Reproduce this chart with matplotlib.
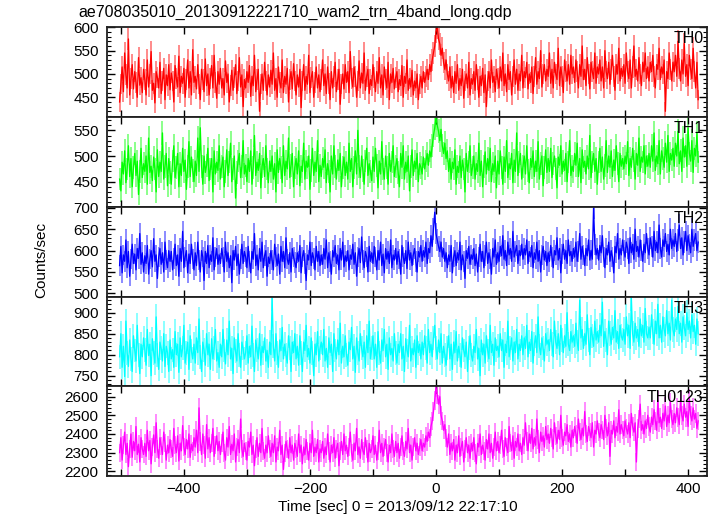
import numpy as np
import matplotlib
matplotlib.use('Agg')
import matplotlib.pyplot as plt
from matplotlib.ticker import MultipleLocator, FuncFormatter

plt.rcParams['font.family'] = ['Liberation Sans', 'DejaVu Sans']

# ---- data (2 s sampling of the light curves) ----
t_start = -502
t_step = 2

th0 = [440, 478, 515, 462, 545, 498, 470, 575, 455, 490, 520, 468, 505, 482, 450, 535, 476, 492, 460, 510,
       488, 455, 530, 472, 500, 548, 465, 480, 438, 505, 492, 470, 525, 458, 485, 512, 445, 498, 475, 520,
       466, 502, 485, 440, 518, 490, 472, 538, 460, 495, 480, 512, 450, 488, 530, 470, 505, 455, 552, 482,
       495, 468, 520, 478, 445, 510, 488, 462, 532, 475, 500, 455, 490, 518, 470, 540, 482, 448, 505, 478,
       512, 470, 490, 455, 528, 482, 500, 440, 475, 508, 465, 492, 520, 458, 485, 535, 472, 498, 430, 488,
       470, 505, 482, 518, 452, 495, 475, 540, 462, 488, 510, 420, 478, 500, 465, 525, 485, 455, 498, 472,
       508, 478, 545, 465, 490, 450, 515, 482, 470, 530, 460, 495, 478, 512, 440, 488, 505, 468, 522, 485,
       455, 498, 472, 510, 428, 485, 520, 465, 495, 478, 540, 460, 492, 505, 450, 482, 515, 470, 498, 462,
       488, 530, 475, 500, 458, 515, 480, 445, 505, 470, 495, 525, 462, 488, 510, 435, 478, 500, 468, 520,
       482, 505, 460, 548, 490, 472, 515, 495, 450, 485, 528, 470, 502, 480, 545, 465, 495, 510, 458, 488,
       475, 520, 492, 462, 505, 480, 535, 470, 498, 455, 515, 488, 470, 525, 445, 500, 482, 512, 468, 492,
       505, 462, 488, 475, 518, 450, 495, 480, 530, 465, 490, 472, 508, 455, 485, 470, 500, 445, 478, 495,
       470, 505, 482, 495, 510, 488, 520, 505, 530, 545, 560, 590, 600, 575, 565, 540, 555, 525, 510, 530,
       500, 485, 515, 470, 495, 460, 505, 480, 520, 465, 490, 475, 510, 448, 485, 500, 470, 525, 455, 490,
       478, 505, 465, 520, 488, 450, 495, 475, 512, 460, 498, 430, 485, 505, 470, 530, 482, 495, 462, 510,
       490, 470, 515, 485, 545, 475, 500, 462, 520, 488, 505, 455, 495, 530, 478, 510, 465, 500, 485, 540,
       470, 505, 492, 525, 468, 500, 482, 515, 458, 495, 535, 478, 505, 490, 550, 472, 500, 520, 485, 510,
       495, 545, 480, 510, 470, 525, 500, 488, 555, 475, 515, 495, 460, 530, 505, 485, 520, 478, 540, 500,
       515, 482, 530, 505, 470, 520, 495, 560, 488, 510, 475, 535, 500, 468, 525, 505, 490, 545, 480, 515,
       500, 530, 485, 515, 470, 550, 505, 490, 525, 478, 510, 540, 495, 465, 520, 500, 555, 485, 512, 495,
       520, 480, 545, 505, 490, 530, 470, 515, 560, 495, 510, 485, 535, 500, 475, 525, 505, 545, 490, 515,
       485, 525, 505, 540, 495, 470, 520, 510, 555, 488, 515, 500, 530, 420, 505, 490, 545, 510, 485, 525,
       505, 540, 495, 570, 512, 485, 530, 500, 565, 495, 520, 475, 540, 510, 490, 555, 505, 470, 525, 445]

th1 = [455, 432, 488, 465, 510, 448, 475, 520, 460, 495, 440, 478, 505, 462, 490, 425, 470, 515, 458, 485,
       470, 500, 445, 535, 468, 480, 452, 498, 475, 430, 512, 460, 488, 470, 545, 455, 480, 505, 442, 495,
       468, 445, 490, 520, 458, 478, 505, 440, 485, 462, 515, 470, 492, 435, 480, 528, 460, 498, 472, 450,
       490, 462, 535, 470, 555, 480, 445, 500, 468, 482, 515, 452, 475, 495, 430, 510, 465, 488, 472, 520,
       455, 480, 498, 440, 470, 512, 462, 488, 525, 450, 475, 500, 418, 468, 490, 505, 458, 480, 530, 465,
       482, 450, 495, 470, 510, 445, 478, 540, 462, 488, 472, 505, 438, 480, 495, 460, 520, 475, 448, 490,
       470, 500, 455, 485, 430, 512, 468, 495, 478, 448, 520, 462, 490, 475, 535, 458, 482, 505, 440, 478,
       495, 465, 510, 442, 480, 470, 525, 455, 490, 478, 500, 435, 472, 515, 462, 488, 470, 530, 450, 482,
       460, 495, 478, 512, 448, 485, 470, 430, 500, 465, 520, 480, 455, 492, 472, 505, 440, 478, 498, 462,
       488, 455, 525, 470, 495, 440, 478, 510, 465, 550, 480, 458, 500, 472, 445, 490, 515, 462, 485, 470,
       452, 498, 470, 515, 482, 438, 490, 465, 528, 475, 455, 500, 478, 445, 505, 470, 488, 520, 460, 480,
       495, 468, 440, 505, 478, 520, 455, 488, 470, 500, 432, 480, 512, 462, 490, 475, 505, 450, 485, 478,
       465, 498, 475, 490, 505, 482, 510, 498, 520, 540, 555, 575, 560, 548, 530, 552, 520, 505, 525, 495,
       510, 470, 495, 455, 488, 475, 512, 445, 480, 468, 500, 458, 492, 475, 430, 505, 470, 488, 520, 462,
       478, 500, 455, 485, 470, 525, 462, 490, 440, 480, 508, 465, 495, 472, 515, 450, 485, 470, 500, 438,
       490, 465, 510, 478, 445, 498, 470, 530, 458, 485, 475, 505, 448, 492, 470, 545, 462, 488, 505, 455,
       480, 500, 465, 520, 472, 448, 495, 478, 510, 460, 490, 470, 528, 455, 485, 500, 442, 478, 512, 468,
       495, 470, 515, 458, 485, 500, 475, 438, 498, 482, 520, 465, 490, 472, 505, 450, 488, 530, 462, 480,
       470, 505, 482, 525, 460, 495, 448, 512, 478, 490, 465, 500, 475, 540, 458, 488, 505, 470, 495, 445,
       488, 515, 470, 498, 455, 482, 530, 468, 500, 478, 510, 460, 492, 472, 520, 485, 450, 505, 480, 495,
       475, 500, 485, 528, 462, 495, 478, 515, 490, 455, 505, 482, 535, 470, 498, 488, 520, 465, 500, 480,
       505, 478, 520, 490, 545, 472, 500, 485, 530, 465, 510, 495, 478, 525, 488, 540, 470, 505, 492, 515,
       480, 525, 500, 548, 485, 510, 470, 535, 498, 520, 480, 555, 505, 490, 530, 468, 515, 500, 545, 488]

th2 = [565, 610, 548, 590, 575, 625, 560, 598, 540, 580, 615, 570, 592, 555, 605, 582, 640, 568, 595, 550,
       588, 570, 612, 545, 580, 600, 562, 628, 575, 590, 535, 585, 605, 568, 595, 550, 620, 578, 560, 600,
       575, 598, 555, 582, 615, 565, 590, 540, 605, 575, 645, 560, 585, 600, 548, 592, 570, 615, 580, 555,
       595, 565, 620, 578, 550, 600, 585, 530, 598, 570, 612, 560, 590, 575, 630, 555, 585, 605, 568, 590,
       570, 605, 585, 550, 620, 575, 595, 560, 588, 525, 600, 578, 610, 565, 592, 545, 580, 615, 570, 598,
       585, 560, 610, 575, 548, 598, 580, 640, 565, 590, 555, 605, 575, 620, 560, 588, 600, 540, 585, 570,
       600, 578, 555, 615, 585, 565, 592, 545, 610, 575, 598, 560, 630, 580, 568, 595, 550, 605, 585, 572,
       560, 595, 575, 612, 548, 585, 600, 570, 530, 590, 578, 620, 565, 595, 582, 555, 610, 575, 598, 565,
       590, 568, 605, 580, 625, 560, 595, 575, 545, 600, 585, 612, 570, 590, 555, 605, 578, 620, 562, 588,
       575, 600, 555, 590, 580, 615, 568, 595, 540, 585, 605, 572, 632, 578, 560, 598, 585, 550, 610, 575,
       595, 570, 610, 585, 555, 600, 578, 620, 565, 592, 548, 605, 580, 598, 570, 625, 560, 590, 578, 605,
       568, 598, 580, 545, 612, 585, 570, 600, 558, 620, 578, 595, 565, 590, 605, 575, 550, 598, 585, 612,
       575, 600, 585, 620, 570, 605, 595, 635, 610, 650, 690, 640, 625, 610, 598, 620, 585, 605, 575, 595,
       560, 590, 575, 612, 548, 585, 600, 565, 595, 578, 620, 555, 590, 575, 535, 600, 582, 610, 568, 590,
       580, 605, 565, 592, 550, 585, 615, 575, 598, 560, 588, 620, 570, 595, 580, 545, 605, 585, 625, 568,
       595, 575, 610, 588, 635, 580, 600, 565, 620, 590, 605, 575, 645, 585, 598, 612, 570, 600, 588, 615,
       580, 605, 590, 625, 570, 598, 585, 612, 560, 595, 580, 620, 575, 600, 550, 590, 610, 578, 598, 565,
       595, 575, 612, 585, 560, 600, 590, 630, 578, 605, 548, 592, 615, 580, 600, 570, 625, 588, 598, 575,
       605, 585, 620, 575, 598, 640, 580, 610, 590, 565, 605, 588, 625, 578, 600, 580, 700, 615, 590, 605,
       578, 612, 595, 635, 585, 560, 605, 590, 620, 575, 600, 585, 548, 610, 595, 640, 580, 605, 590, 625,
       600, 585, 620, 605, 570, 630, 595, 615, 580, 650, 598, 610, 585, 625, 600, 575, 615, 595, 640, 605,
       590, 630, 610, 585, 645, 600, 620, 595, 660, 605, 585, 625, 610, 640, 598, 615, 590, 650, 605, 625,
       610, 640, 598, 625, 660, 605, 630, 590, 620, 645, 600, 635, 615, 595, 650, 610, 625, 640, 600, 620]

th3 = [795, 850, 770, 820, 748, 880, 805, 772, 835, 790, 760, 845, 810, 785, 870, 800, 755, 825, 795, 840,
       812, 775, 860, 798, 825, 750, 838, 805, 780, 890, 800, 765, 830, 815, 785, 850, 772, 820, 805, 760,
       835, 790, 812, 770, 855, 800, 825, 758, 840, 795, 815, 870, 780, 805, 830, 765, 845, 808, 790, 825,
       780, 840, 805, 885, 795, 760, 830, 812, 775, 850, 800, 825, 765, 838, 790, 815, 860, 785, 805, 770,
       825, 795, 860, 810, 778, 835, 800, 880, 790, 815, 755, 840, 808, 785, 850, 800, 770, 830, 815, 790,
       805, 845, 780, 820, 795, 868, 800, 760, 835, 812, 790, 850, 775, 820, 805, 840, 785, 810, 770, 830,
       800, 935, 820, 785, 850, 805, 770, 835, 810, 865, 790, 825, 800, 780, 845, 815, 760, 830, 805, 850,
       790, 820, 775, 845, 805, 760, 830, 810, 870, 795, 815, 780, 840, 805, 750, 825, 800, 855, 785, 815,
       830, 800, 860, 785, 815, 770, 840, 805, 825, 760, 850, 810, 790, 835, 800, 875, 780, 820, 795, 845,
       800, 775, 830, 812, 865, 790, 820, 758, 840, 805, 785, 850, 815, 795, 830, 770, 845, 805, 880, 790,
       815, 845, 790, 825, 770, 855, 805, 780, 835, 810, 860, 795, 825, 765, 840, 800, 815, 785, 850, 805,
       780, 825, 805, 850, 790, 820, 760, 838, 810, 795, 870, 785, 815, 800, 835, 770, 845, 805, 825, 790,
       830, 800, 845, 815, 780, 860, 805, 825, 795, 840, 870, 815, 790, 835, 805, 850, 780, 820, 800, 775,
       815, 845, 790, 825, 765, 830, 805, 855, 785, 820, 800, 770, 840, 810, 795, 830, 760, 815, 845, 800,
       785, 820, 805, 860, 790, 815, 750, 835, 800, 825, 780, 845, 810, 790, 870, 805, 825, 775, 840, 810,
       820, 795, 850, 810, 835, 770, 825, 805, 880, 795, 815, 840, 785, 830, 805, 860, 790, 825, 810, 845,
       800, 840, 815, 870, 795, 830, 810, 855, 780, 825, 845, 805, 890, 820, 800, 840, 815, 785, 850, 825,
       835, 810, 860, 825, 795, 880, 830, 815, 850, 800, 870, 835, 805, 845, 820, 900, 825, 810, 855, 830,
       845, 820, 875, 830, 810, 930, 840, 860, 815, 850, 825, 895, 835, 800, 865, 845, 820, 880, 835, 855,
       830, 870, 845, 925, 820, 855, 835, 800, 880, 850, 825, 865, 840, 905, 830, 855, 815, 870, 845, 835,
       860, 825, 890, 845, 870, 815, 935, 850, 830, 875, 840, 860, 820, 885, 845, 870, 830, 910, 850, 840,
       865, 840, 895, 855, 825, 880, 850, 920, 840, 870, 830, 890, 860, 845, 905, 850, 875, 835, 930, 860,
       845, 885, 860, 915, 850, 875, 830, 890, 865, 845, 900, 860, 880, 840, 895, 855, 870, 825, 885, 850]

th0123 = [2300, 2380, 2260, 2340, 2410, 2290, 2350, 2225, 2320, 2400, 2275, 2360, 2310, 2440, 2290, 2345, 2250, 2380, 2320, 2290,
          2350, 2280, 2420, 2310, 2365, 2240, 2330, 2395, 2300, 2460, 2320, 2270, 2380, 2335, 2290, 2410, 2350, 2260, 2340, 2300,
          2370, 2320, 2280, 2430, 2340, 2300, 2390, 2255, 2350, 2310, 2445, 2330, 2290, 2370, 2320, 2400, 2275, 2345, 2310, 2380,
          2330, 2420, 2300, 2540, 2360, 2290, 2400, 2340, 2270, 2450, 2320, 2380, 2300, 2350, 2430, 2280, 2340, 2390, 2310, 2360,
          2290, 2350, 2410, 2300, 2260, 2380, 2330, 2440, 2290, 2345, 2310, 2400, 2250, 2330, 2370, 2300, 2480, 2320, 2280, 2350,
          2310, 2260, 2360, 2330, 2410, 2290, 2340, 2230, 2320, 2380, 2280, 2350, 2300, 2430, 2310, 2270, 2340, 2300, 2390, 2320,
          2280, 2350, 2300, 2390, 2250, 2330, 2310, 2420, 2290, 2340, 2210, 2300, 2360, 2320, 2270, 2380, 2300, 2340, 2260, 2350,
          2320, 2280, 2400, 2300, 2340, 2240, 2330, 2290, 2370, 2310, 2260, 2350, 2300, 2420, 2280, 2330, 2300, 2370, 2250, 2320,
          2300, 2360, 2270, 2330, 2290, 2400, 2310, 2250, 2340, 2300, 2380, 2270, 2320, 2350, 2230, 2310, 2360, 2290, 2400, 2310,
          2340, 2280, 2330, 2410, 2300, 2260, 2350, 2310, 2430, 2290, 2330, 2270, 2370, 2310, 2290, 2380, 2320, 2250, 2350, 2300,
          2320, 2390, 2290, 2340, 2260, 2310, 2420, 2300, 2350, 2280, 2330, 2370, 2300, 2250, 2340, 2300, 2400, 2320, 2280, 2360,
          2300, 2350, 2270, 2330, 2390, 2310, 2280, 2360, 2320, 2430, 2300, 2340, 2260, 2330, 2380, 2310, 2350, 2290, 2330, 2370,
          2310, 2350, 2330, 2390, 2360, 2410, 2380, 2440, 2470, 2520, 2580, 2650, 2610, 2560, 2600, 2500, 2470, 2420, 2450, 2380,
          2330, 2400, 2290, 2350, 2310, 2370, 2260, 2340, 2300, 2390, 2280, 2330, 2360, 2250, 2320, 2380, 2300, 2340, 2270, 2350,
          2310, 2380, 2300, 2240, 2350, 2330, 2400, 2290, 2340, 2310, 2260, 2370, 2320, 2400, 2300, 2350, 2270, 2330, 2410, 2310,
          2360, 2300, 2340, 2420, 2320, 2280, 2380, 2330, 2300, 2440, 2350, 2310, 2390, 2270, 2360, 2330, 2400, 2310, 2350, 2290,
          2380, 2340, 2460, 2360, 2310, 2400, 2350, 2430, 2320, 2380, 2340, 2480, 2370, 2300, 2410, 2360, 2390, 2330, 2440, 2370,
          2400, 2350, 2430, 2380, 2320, 2460, 2390, 2350, 2420, 2370, 2500, 2380, 2340, 2410, 2390, 2450, 2360, 2400, 2330, 2420,
          2380, 2440, 2400, 2350, 2480, 2410, 2370, 2430, 2390, 2520, 2400, 2360, 2440, 2410, 2380, 2460, 2330, 2420, 2400, 2470,
          2410, 2380, 2450, 2420, 2370, 2500, 2430, 2390, 2460, 2280, 2420, 2400, 2470, 2380, 2440, 2410, 2530, 2400, 2450, 2420,
          2390, 2470, 2430, 2400, 2460, 2380, 2510, 2440, 2410, 2460, 2250, 2430, 2480, 2560, 2420, 2450, 2400, 2470, 2430, 2500,
          2440, 2410, 2490, 2450, 2530, 2470, 2420, 2580, 2460, 2490, 2430, 2510, 2470, 2550, 2440, 2500, 2460, 2570, 2480, 2450,
          2510, 2460, 2540, 2490, 2450, 2580, 2500, 2470, 2560, 2490, 2520, 2440, 2590, 2500, 2470, 2540, 2480, 2510, 2430, 2470]

band_names = ['TH0', 'TH1', 'TH2', 'TH3', 'TH0123']
band_values = [th0, th1, th2, th3, th0123]
band_colors = ['#ff0000', '#00ff00', '#0000ff', '#00ffff', '#ff00ff']
band_ylims = [(407.7, 600), (401, 576), (492.5, 702.8), (724.8, 938.6), (2174.8, 2655.8)]
band_ysteps = [50, 50, 50, 50, 100]

title_text = 'ae708035010_20130912221710_wam2_trn_4band_long.qdp'
xlabel_text = 'Time [sec] 0 = 2013/09/12 22:17:10'
ylabel_text = 'Counts/sec'

# ---- figure ----
W, H = 717, 516
fig = plt.figure(figsize=(W / 100, H / 100), dpi=100)
x0, x1 = 107 / W, 707 / W
ytop, ybot = 1 - 27.3 / H, 1 - 476 / H
ph = (ytop - ybot) / 5

def lighten(c, f=0.5):
    r, g, b = matplotlib.colors.to_rgb(c)
    return (r + (1 - r) * f, g + (1 - g) * f, b + (1 - b) * f)

fs = 11
for i, (name, vals, col, yl, ys) in enumerate(zip(band_names, band_values, band_colors, band_ylims, band_ysteps)):
    ax = fig.add_axes([x0, ytop - (i + 1) * ph, x1 - x0, ph])
    y = np.asarray(vals, dtype=float)
    t = t_start + t_step * np.arange(len(y))
    err = np.sqrt(y)
    ax.vlines(t, y - err, y + err, colors=[lighten(col, 0.42)], linewidth=1.1, zorder=1)
    ax.plot(t, y, color=col, linewidth=0.95, zorder=2)
    ax.set_xlim(-522, 430)
    ax.set_ylim(*yl)
    ax.yaxis.set_major_locator(MultipleLocator(ys))
    ax.yaxis.set_minor_locator(MultipleLocator(ys / 5))
    ax.xaxis.set_major_locator(MultipleLocator(100))
    ax.xaxis.set_major_formatter(FuncFormatter(lambda v, p: ('%d' % v).replace('-', '\u2212') if abs(v) % 200 == 0 else ''))
    ax.tick_params(axis='both', which='both', direction='in', top=True, right=True,
                   labelsize=fs, colors='black')
    ax.tick_params(axis='y', which='major', length=6, width=1.0, pad=6)
    ax.tick_params(axis='y', which='minor', length=3, width=0.8)
    ax.tick_params(axis='x', which='major', length=5, width=1.0, pad=4.5)
    if i < 4:
        ax.tick_params(axis='x', labelbottom=False)
    for s in ax.spines.values():
        s.set_linewidth(1.3)
        s.set_color('#202020')
    ax.text(0.994, 0.955, name, transform=ax.transAxes, ha='right', va='top',
            fontsize=fs + 0.5, color='black')

fig.text(78 / W, 1 - 5 / H, title_text, ha='left', va='top', fontsize=fs + 0.5)
fig.text(397.5 / W, 1 - 511.5 / H, xlabel_text, ha='center', va='baseline', fontsize=fs)
fig.text(41 / W, 1 - 260 / H, ylabel_text, ha='center', va='center', rotation=90, fontsize=fs)

fig.savefig('out.png', dpi=100)
